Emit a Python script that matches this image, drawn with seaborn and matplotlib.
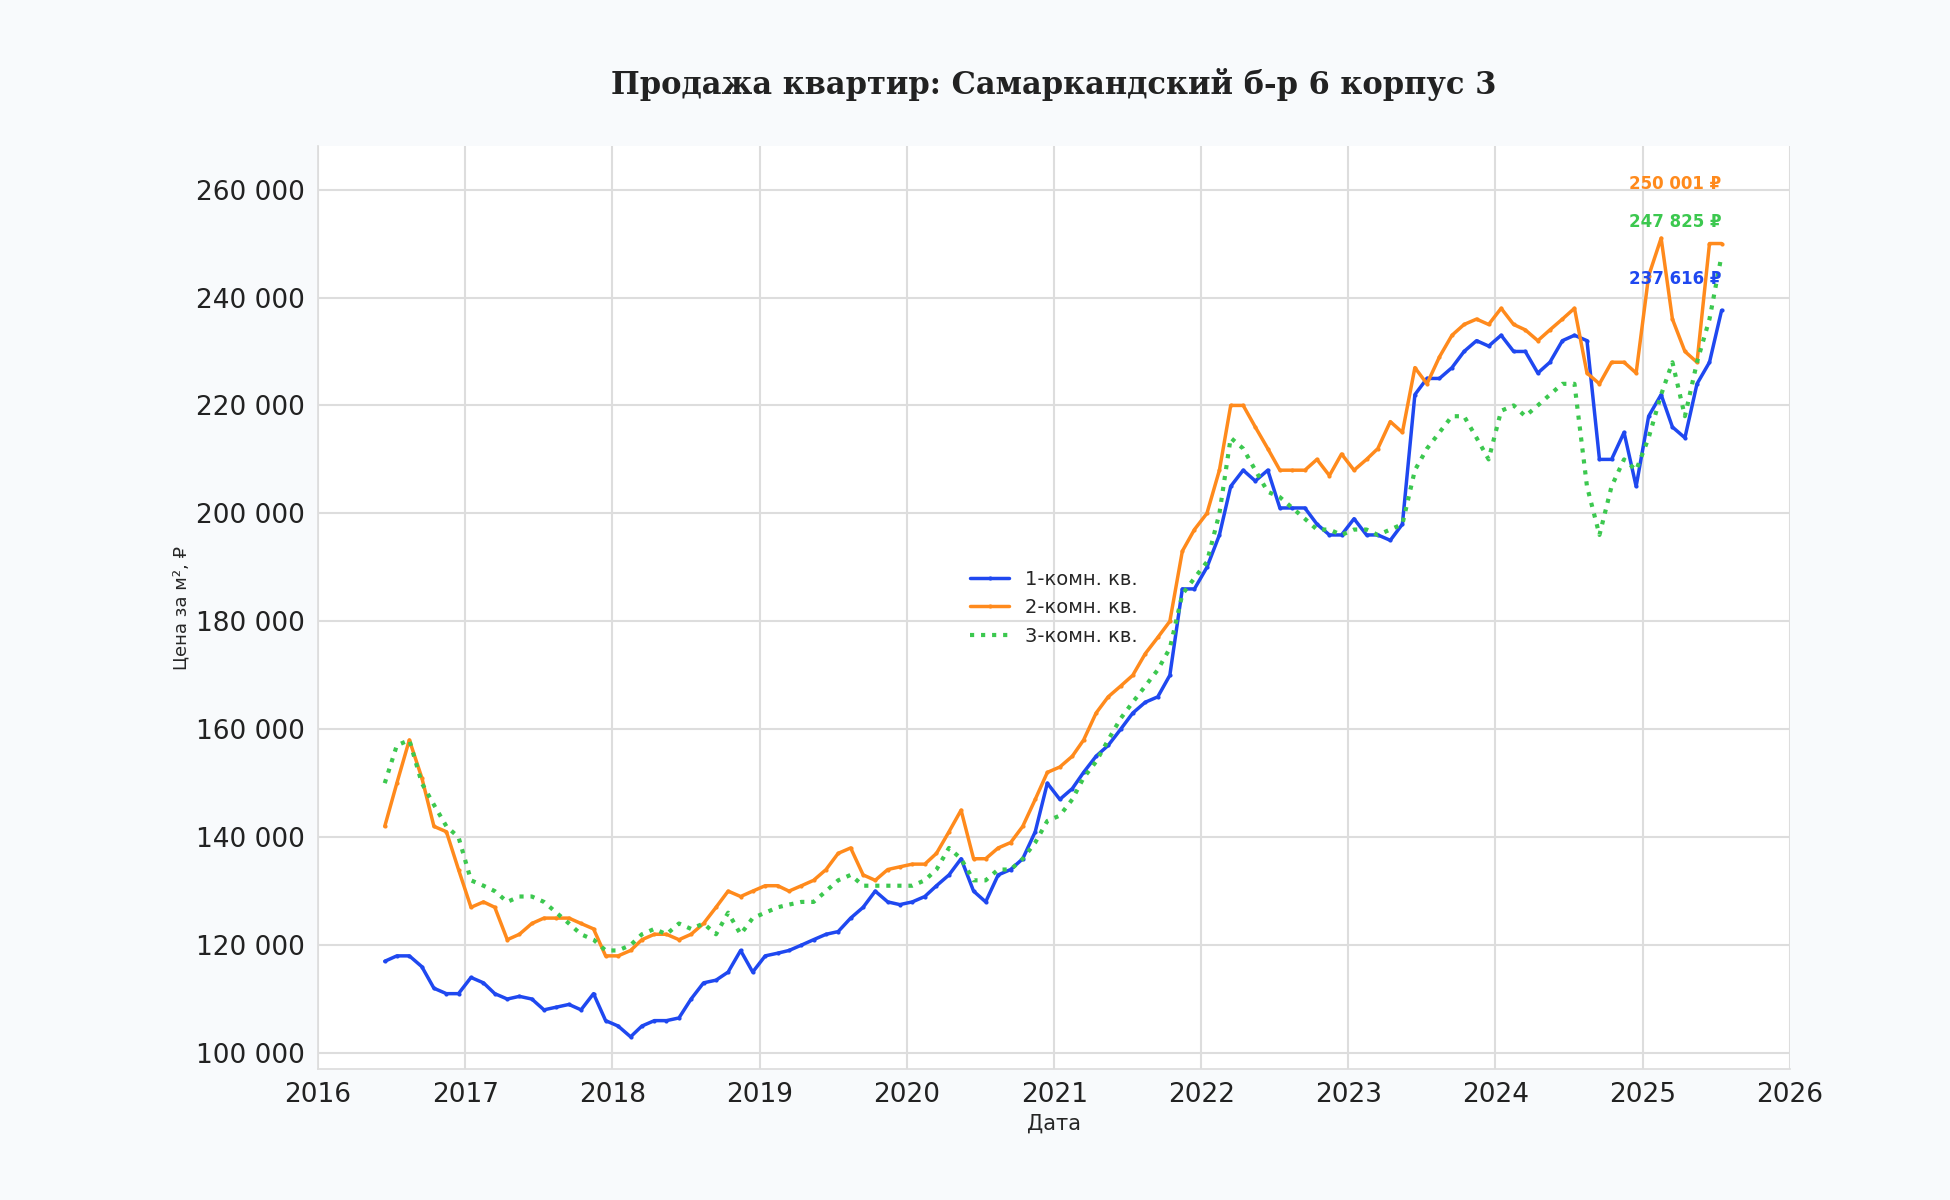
import pandas as pd
import matplotlib.pyplot as plt
import matplotlib.ticker as mticker
import matplotlib.dates as mdates
import seaborn as sns

months = pd.date_range('2016-06-01', '2025-07-01', freq='MS') + pd.Timedelta(days=14)

one_room = [117000, 118000, 118000, 116000, 112000, 111000, 111000,
            114000, 113000, 111000, 110000, 110500, 110000, 108000, 108500, 109000, 108000, 111000, 106000,
            105000, 103000, 105000, 106000, 106000, 106500, 110000, 113000, 113500, 115000, 119000, 115000,
            118000, 118500, 119000, 120000, 121000, 122000, 122500, 125000, 127000, 130000, 128000, 127500,
            128000, 129000, 131000, 133000, 136000, 130000, 128000, 133000, 134000, 136000, 141000, 150000,
            147000, 149000, 152000, 155000, 157000, 160000, 163000, 165000, 166000, 170000, 186000, 186000,
            190000, 196000, 205000, 208000, 206000, 208000, 201000, 201000, 201000, 198000, 196000, 196000,
            199000, 196000, 196000, 195000, 198000, 222000, 225000, 225000, 227000, 230000, 232000, 231000,
            233000, 230000, 230000, 226000, 228000, 232000, 233000, 232000, 210000, 210000, 215000, 205000,
            218000, 222000, 216000, 214000, 224000, 228000, 237616]
two_room = [142000, 150000, 158000, 151000, 142000, 141000, 134000,
            127000, 128000, 127000, 121000, 122000, 124000, 125000, 125000, 125000, 124000, 123000, 118000,
            118000, 119000, 121000, 122000, 122000, 121000, 122000, 124000, 127000, 130000, 129000, 130000,
            131000, 131000, 130000, 131000, 132000, 134000, 137000, 138000, 133000, 132000, 134000, 134500,
            135000, 135000, 137000, 141000, 145000, 136000, 136000, 138000, 139000, 142000, 147000, 152000,
            153000, 155000, 158000, 163000, 166000, 168000, 170000, 174000, 177000, 180000, 193000, 197000,
            200000, 208000, 220000, 220000, 216000, 212000, 208000, 208000, 208000, 210000, 207000, 211000,
            208000, 210000, 212000, 217000, 215000, 227000, 224000, 229000, 233000, 235000, 236000, 235000,
            238000, 235000, 234000, 232000, 234000, 236000, 238000, 226000, 224000, 228000, 228000, 226000,
            244000, 251000, 236000, 230000, 228000, 250000, 250001]
three_room = [150000, 157000, 158000, 150000, 146000, 142000, 140000,
              132000, 131000, 130000, 128000, 129000, 129000, 128000, 126000, 124000, 122000, 121000, 119000,
              119000, 120000, 122000, 123000, 122000, 124000, 123000, 124000, 122000, 126000, 122000, 125000,
              126000, 127000, 127500, 128000, 128000, 130000, 132000, 133000, 131000, 131000, 131000, 131000,
              131000, 132000, 134000, 138000, 136000, 132000, 132000, 134000, 134000, 136000, 139000, 143000,
              144000, 147000, 151000, 154000, 158000, 162000, 165000, 168000, 171000, 175000, 185000, 188000,
              191000, 200000, 214000, 212000, 208000, 204000, 203000, 201000, 199000, 197000, 197000, 196000,
              197000, 197000, 196000, 197000, 198000, 208000, 212000, 215000, 218000, 218000, 214000, 210000,
              219000, 220000, 218000, 220000, 222000, 224000, 224000, 205000, 196000, 205000, 210000, 208000,
              214000, 222000, 228000, 218000, 228000, 236000, 247825]

series = {'1-комн. кв.': one_room, '2-комн. кв.': two_room, '3-комн. кв.': three_room}
colors = {'1-комн. кв.': '#1f48f0', '2-комн. кв.': '#ff8a1c', '3-комн. кв.': '#3cc84f'}

sns.set_theme(style='whitegrid')
fig = plt.figure(figsize=(19.5, 12), dpi=100, facecolor='#f8fafc')
ax = fig.add_axes([0.163, 0.109, 0.755, 0.769])
ax.set_facecolor('white')

for name, vals in series.items():
    if name == '3-комн. кв.':
        sns.lineplot(x=months, y=vals, ax=ax, color=colors[name], lw=3, ls=':', label=name)
    else:
        sns.lineplot(x=months, y=vals, ax=ax, color=colors[name], lw=2.5, marker='o', ms=3,
                     markeredgewidth=0, label=name)

ax.set_xlim(pd.Timestamp('2016-01-01'), pd.Timestamp('2026-01-01'))
ax.set_ylim(97000, 268000)
ax.yaxis.set_major_locator(mticker.MultipleLocator(20000))
ax.yaxis.set_major_formatter(mticker.FuncFormatter(lambda v, p: f'{int(v):,}'.replace(',', ' ')))
ax.xaxis.set_major_locator(mdates.YearLocator())
ax.xaxis.set_major_formatter(mdates.DateFormatter('%Y'))
ax.tick_params(labelsize=19, colors='#222222')
ax.grid(color='#dddddd', lw=1.5)
for s in ['top', 'right']:
    ax.spines[s].set_visible(False)
for s in ['left', 'bottom']:
    ax.spines[s].set_color('#dddddd')

ax.set_title('Продажа квартир: Самаркандский б-р 6 корпус 3', fontsize=22, fontweight='bold',
             family='DejaVu Serif', color='#222222', pad=38)
ax.set_xlabel('Дата', fontsize=15)
ax.set_ylabel('Цена за м², ₽', fontsize=13)

ann_y = {'2-комн. кв.': 261000, '3-комн. кв.': 254000, '1-комн. кв.': 243500}
for name, vals in series.items():
    ax.text(months[-1], ann_y[name], f'{vals[-1]:,} ₽'.replace(',', ' '), color=colors[name],
            fontsize=12, fontweight='bold', ha='right', va='center')

ax.legend(loc='center', bbox_to_anchor=(0.5, 0.5), frameon=False, fontsize=14)
fig.savefig('out.png', facecolor=fig.get_facecolor())
